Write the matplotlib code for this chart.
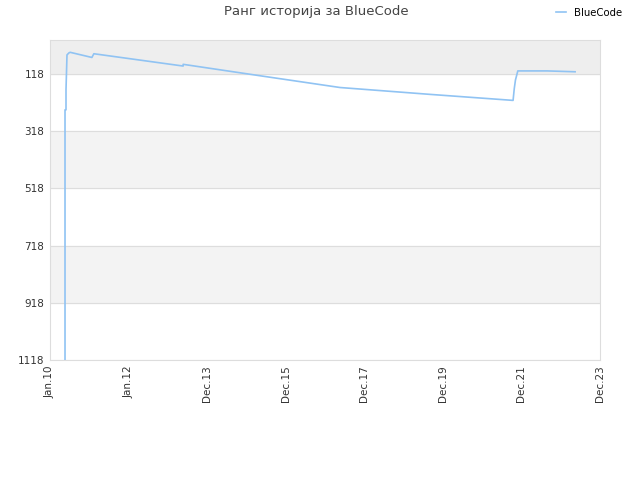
import matplotlib
matplotlib.use('Agg')
from matplotlib import pyplot as plt

#Rank history (x in decimal years, y = rank)
years = [2010.38, 2010.38, 2010.405, 2010.405, 2010.43, 2010.48, 2010.51,
         2011.06, 2011.11, 2013.37, 2013.37, 2015.32, 2017.34, 2019.62,
         2021.72, 2021.75, 2021.78, 2021.84, 2022.58, 2023.29]
ranks = [1118, 244, 244, 174, 52, 45, 43,
         61, 48, 91, 85, 125, 166, 190,
         211, 170, 140, 108, 108, 111]

#Axis labels
tick_labels = ['Jan.10', 'Jan.12', 'Dec.13', 'Dec.15', 'Dec.17', 'Dec.19', 'Dec.21', 'Dec.23']
x_start = 2010.0
x_end = 2023.92
y_ticks = [118, 318, 518, 718, 918, 1118]

fig = plt.figure(figsize=(6.4, 4.8), dpi=100)
ax = fig.add_axes([50/640, 1 - 360/480, 550/640, 320/480])

#Alternating bands
ax.axhspan(0, 118, color='#eeeeee', zorder=0)
ax.axhspan(318, 518, color='#f3f3f3', zorder=0)
ax.axhspan(718, 918, color='#f3f3f3', zorder=0)
for t in y_ticks:
    ax.axhline(t, color='#dddddd', linewidth=0.8, zorder=1)

ax.plot(years, ranks, color='#90c3f3', linewidth=1.2, label='BlueCode', zorder=3)

ax.set_xlim(x_start, x_end)
ax.set_ylim(1118, 0)
step = (x_end - x_start) / 7
ax.set_xticks([x_start + i*step for i in range(8)])
ax.set_xticklabels(tick_labels, rotation=90, fontsize=7.5, color='#333333')
ax.set_yticks(y_ticks)
ax.set_yticklabels([str(t) for t in y_ticks], fontsize=7.5, color='#333333')
ax.tick_params(length=0, pad=4)
for s in ax.spines.values():
    s.set_color('#dddddd')

fig.text(0.495, 1 - 12/480, 'Ранг историја за BlueCode', ha='center', va='center',
         fontsize=9.5, color='#444444')
fig.legend(loc='center left', bbox_to_anchor=(552/640, 1 - 13/480), frameon=False,
           fontsize=7.3, handlelength=1.0, handletextpad=0.8, borderaxespad=0)

plt.savefig('out.png', dpi=100)
